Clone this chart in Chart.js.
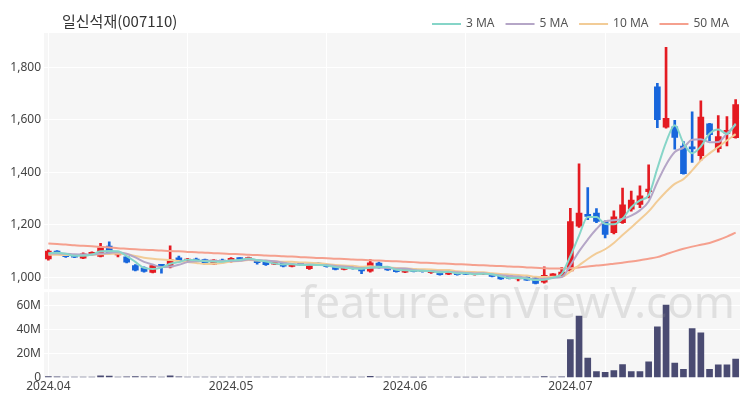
<!DOCTYPE html>
<html>
<head>
<meta charset="utf-8">
<script src="https://cdn.jsdelivr.net/npm/chart.js@4.4.1/dist/chart.umd.min.js"></script>
<style>
  html, body { margin: 0; padding: 0; background: #fff; }
</style>
</head>
<body>
<canvas id="stockChart" width="750" height="400"></canvas>
<script>
const chartTitle = '일신석재(007110)';
const monthLabels = ['2024.04', '2024.05', '2024.06', '2024.07'];
const daysApr = [1, 2, 3, 4, 5, 8, 9, 11, 12, 15, 16, 17, 18, 19, 22, 23, 24, 25, 26, 29, 30];
const daysMay = [2, 3, 7, 8, 9, 10, 13, 14, 16, 17, 20, 21, 22, 23, 24, 27, 28, 29, 30, 31];
const daysJun = [3, 4, 5, 7, 10, 11, 12, 13, 14, 17, 18, 19, 20, 21, 24, 25, 26, 27, 28];
const daysJul = [1, 2, 3, 4, 5, 8, 9, 10, 11, 12, 15, 16, 17, 18, 19, 22, 23, 24, 25, 26];

const opens = [1070, 1100, 1083, 1079, 1073, 1086, 1080, 1119, 1085, 1078,
  1045, 1036, 1019, 1048, 1040, 1074, 1062, 1070, 1068, 1050,
  1066, 1060, 1072, 1066, 1064, 1058, 1050, 1056, 1042, 1054,
  1033, 1052, 1048, 1044, 1030, 1040, 1038, 1024, 1054, 1038,
  1029, 1020, 1032, 1029, 1018, 1022, 1012, 1022, 1019, 1010,
  1012, 1014, 1007, 1009, 994, 1001, 998, 982, 1006, 1004,
  1025, 1195, 1238, 1245, 1212, 1170, 1208, 1260, 1278, 1326,
  1725, 1572, 1573, 1500, 1496, 1463, 1584, 1490, 1548, 1532];
const highs = [1105, 1102, 1085, 1081, 1093, 1097, 1130, 1135, 1095, 1080,
  1049, 1040, 1046, 1050, 1120, 1081, 1072, 1073, 1070, 1068,
  1070, 1075, 1075, 1077, 1066, 1060, 1058, 1057, 1052, 1056,
  1050, 1055, 1050, 1046, 1041, 1041, 1040, 1068, 1058, 1040,
  1030, 1032, 1033, 1030, 1028, 1024, 1028, 1023, 1020, 1018,
  1017, 1015, 1008, 1010, 1005, 1002, 1000, 1040, 1014, 1038,
  1263, 1432, 1342, 1262, 1215, 1253, 1340, 1328, 1348, 1428,
  1738, 1875, 1598, 1517, 1630, 1672, 1586, 1616, 1612, 1677];
const lows = [1065, 1088, 1076, 1075, 1071, 1084, 1078, 1090, 1078, 1055,
  1025, 1020, 1017, 1016, 1036, 1062, 1058, 1060, 1048, 1048,
  1055, 1058, 1064, 1064, 1050, 1045, 1048, 1040, 1040, 1045,
  1030, 1045, 1039, 1028, 1028, 1031, 1014, 1020, 1035, 1026,
  1020, 1018, 1021, 1020, 1015, 1008, 1010, 1008, 1010, 1008,
  1010, 1002, 992, 994, 986, 988, 975, 978, 1004, 1002,
  1022, 1190, 1220, 1208, 1150, 1165, 1205, 1252, 1265, 1302,
  1570, 1568, 1488, 1393, 1437, 1444, 1520, 1476, 1500, 1530];
const closes = [1100, 1090, 1079, 1077, 1090, 1095, 1112, 1093, 1092, 1058,
  1027, 1023, 1045, 1042, 1068, 1064, 1070, 1062, 1052, 1066,
  1058, 1072, 1068, 1075, 1056, 1048, 1056, 1043, 1050, 1047,
  1048, 1047, 1041, 1030, 1040, 1033, 1025, 1055, 1037, 1028,
  1022, 1030, 1022, 1022, 1026, 1010, 1026, 1010, 1011, 1016,
  1015, 1004, 994, 996, 1004, 989, 977, 1008, 1012, 1020,
  1212, 1245, 1232, 1213, 1163, 1230, 1276, 1294, 1310, 1336,
  1600, 1605, 1533, 1395, 1489, 1610, 1543, 1536, 1560, 1658];

const ma3 = [1092, 1094, 1090, 1082, 1082, 1087, 1099, 1100, 1099, 1081,
  1059, 1036, 1032, 1037, 1052, 1058, 1067, 1065, 1061, 1060,
  1059, 1065, 1066, 1072, 1066, 1060, 1053, 1049, 1050, 1047,
  1048, 1047, 1045, 1039, 1037, 1034, 1033, 1038, 1039, 1040,
  1029, 1027, 1025, 1025, 1023, 1019, 1021, 1015, 1016, 1012,
  1014, 1012, 1004, 998, 998, 996, 990, 991, 999, 1013,
  1081, 1159, 1230, 1230, 1203, 1202, 1223, 1267, 1293, 1313,
  1415, 1514, 1579, 1511, 1472, 1498, 1547, 1563, 1546, 1585];
const ma5 = [1090, 1091, 1090, 1088, 1087, 1086, 1091, 1093, 1096, 1090,
  1076, 1059, 1049, 1039, 1041, 1048, 1058, 1061, 1063, 1063,
  1062, 1062, 1063, 1068, 1066, 1064, 1061, 1056, 1051, 1049,
  1049, 1047, 1047, 1043, 1041, 1038, 1034, 1037, 1038, 1036,
  1033, 1034, 1028, 1025, 1024, 1022, 1021, 1019, 1017, 1015,
  1016, 1011, 1008, 1005, 1003, 997, 992, 995, 998, 1001,
  1046, 1099, 1144, 1184, 1213, 1217, 1223, 1235, 1255, 1289,
  1363, 1429, 1477, 1494, 1524, 1526, 1514, 1515, 1548, 1581];
const ma10 = [1086, 1086, 1085, 1085, 1085, 1086, 1088, 1089, 1090, 1089,
  1081, 1075, 1071, 1068, 1066, 1062, 1058, 1055, 1051, 1052,
  1055, 1060, 1062, 1066, 1064, 1063, 1061, 1059, 1059, 1057,
  1056, 1054, 1051, 1047, 1045, 1044, 1040, 1042, 1040, 1038,
  1036, 1034, 1032, 1031, 1030, 1028, 1028, 1023, 1021, 1020,
  1019, 1016, 1013, 1011, 1009, 1007, 1002, 1001, 1002, 1002,
  1022, 1046, 1070, 1091, 1107, 1131, 1161, 1190, 1220, 1251,
  1290, 1326, 1356, 1374, 1407, 1445, 1472, 1496, 1521, 1545];
const ma50 = [1129, 1127, 1125, 1122, 1120, 1118, 1116, 1114, 1111, 1109,
  1107, 1105, 1104, 1102, 1100, 1099, 1097, 1096, 1094, 1092,
  1091, 1089, 1088, 1086, 1085, 1083, 1082, 1080, 1079, 1077,
  1076, 1074, 1073, 1071, 1070, 1068, 1067, 1065, 1064, 1062,
  1061, 1059, 1058, 1056, 1055, 1053, 1052, 1050, 1049, 1047,
  1046, 1044, 1043, 1041, 1040, 1038, 1037, 1035, 1034, 1034,
  1035, 1038, 1041, 1045, 1048, 1052, 1056, 1060, 1065, 1071,
  1077, 1088, 1099, 1109, 1117, 1124, 1131, 1142, 1155, 1170];

// volume in millions of shares
const volumes = [0.9, 0.6, 0.4, 0.3, 0.5, 0.4, 1.4, 1.2, 0.5, 0.7,
  0.8, 0.6, 0.7, 0.5, 1.5, 0.6, 0.4, 0.4, 0.4, 0.4,
  0.4, 0.4, 0.3, 0.4, 0.4, 0.4, 0.3, 0.4, 0.3, 0.3,
  0.4, 0.3, 0.3, 0.4, 0.3, 0.2, 0.4, 1.1, 0.5, 0.4,
  0.3, 0.3, 0.2, 0.2, 0.3, 0.3, 0.3, 0.2, 0.2, 0.2,
  0.2, 0.3, 0.4, 0.3, 0.4, 0.3, 0.5, 0.9, 0.4, 0.7,
  31.9, 51.5, 16.3, 5.1, 4.5, 5.9, 11.0, 5.1, 5.1, 13.2,
  42.5, 60.8, 12.1, 7.0, 41.1, 37.4, 7.0, 10.7, 10.7, 15.5];

const priceTicks = [1000, 1200, 1400, 1600, 1800];
const volumeTicks = [0, 20, 40, 60];

const pad = (n) => String(n).padStart(2, '0');
const dates = [
  ...daysApr.map(d => monthLabels[0] + '.' + pad(d)),
  ...daysMay.map(d => monthLabels[1] + '.' + pad(d)),
  ...daysJun.map(d => monthLabels[2] + '.' + pad(d)),
  ...daysJul.map(d => monthLabels[3] + '.' + pad(d)),
];

const UP = '#e41b22';
const DOWN = '#1866dc';
const candleColors = closes.map((c, i) => (c >= opens[i] ? UP : DOWN));

const maLines = [
  { label: '3 MA', data: ma3, color: '#86d5c8' },
  { label: '5 MA', data: ma5, color: '#b5a6c7' },
  { label: '10 MA', data: ma10, color: '#f2cc97' },
  { label: '50 MA', data: ma50, color: '#f5a08e' },
];

const tickFont = { family: "'Noto Sans', 'Noto Sans CJK KR', sans-serif", size: 12 };

// panel backgrounds, title, legend and watermark
const decorations = {
  id: 'decorations',
  beforeDraw(chart) {
    const { ctx, chartArea, scales } = chart;
    ctx.save();
    ctx.fillStyle = '#f6f6f6';
    ctx.fillRect(chartArea.left, scales.y.top, chartArea.right - chartArea.left, scales.y.bottom - scales.y.top);
    ctx.fillRect(chartArea.left, scales.yv.top + 3, chartArea.right - chartArea.left, scales.yv.bottom - scales.yv.top - 3);
    ctx.restore();
  },
  afterDraw(chart) {
    const { ctx } = chart;
    ctx.save();
    // watermark
    ctx.font = "44px 'Noto Sans', sans-serif";
    ctx.fillStyle = 'rgba(150, 150, 150, 0.24)';
    ctx.textAlign = 'right';
    ctx.textBaseline = 'alphabetic';
    ctx.fillText('feature.enViewV.com', 735, 318);

    // title
    ctx.font = "15px 'Noto Sans CJK KR', sans-serif";
    ctx.fillStyle = '#333';
    ctx.textAlign = 'left';
    ctx.textBaseline = 'middle';
    ctx.fillText(chartTitle, 62, 21);

    // legend
    ctx.font = "12px 'Noto Sans', sans-serif";
    let x = 432;
    maLines.forEach(m => {
      ctx.strokeStyle = m.color;
      ctx.lineWidth = 2;
      ctx.beginPath();
      ctx.moveTo(x, 24);
      ctx.lineTo(x + 29, 24);
      ctx.stroke();
      ctx.fillStyle = '#555';
      ctx.fillText(m.label, x + 34, 24);
      x += 34 + ctx.measureText(m.label).width + 11;
    });
    ctx.restore();
  }
};

const monthTick = (index) => {
  const cur = dates[index].slice(0, 7);
  const prev = index > 0 ? dates[index - 1].slice(0, 7) : null;
  return cur !== prev ? cur : '';
};

new Chart(document.getElementById('stockChart'), {
  type: 'bar',
  data: {
    labels: dates,
    datasets: [
      ...maLines.map(m => ({
        type: 'line',
        label: m.label,
        data: m.data,
        borderColor: m.color,
        borderWidth: 2,
        pointRadius: 0,
        cubicInterpolationMode: 'monotone',
        yAxisID: 'y',
        order: 1,
      })),
      {
        label: 'wick',
        data: lows.map((l, i) => [l, highs[i]]),
        backgroundColor: candleColors,
        barThickness: 2,
        grouped: false,
        yAxisID: 'y',
        order: 2,
      },
      {
        label: 'body',
        data: opens.map((o, i) => [o, closes[i]]),
        backgroundColor: candleColors,
        barThickness: 6,
        minBarLength: 2,
        grouped: false,
        yAxisID: 'y',
        order: 2,
      },
      {
        label: 'volume',
        data: volumes,
        backgroundColor: '#4a4b72',
        barThickness: 6,
        grouped: false,
        yAxisID: 'yv',
        order: 3,
      },
    ],
  },
  options: {
    responsive: false,
    animation: false,
    devicePixelRatio: 1,
    layout: { padding: { top: 33, right: 10, bottom: 4, left: 0 } },
    plugins: {
      legend: { display: false },
      title: { display: false },
      tooltip: { enabled: false },
    },
    scales: {
      x: {
        offset: true,
        grid: {
          offset: false,
          drawTicks: false,
          color: (c) => (c.index % 16 === 0 ? '#ffffff' : 'rgba(0,0,0,0)'),
        },
        border: { display: false },
        ticks: {
          autoSkip: false,
          maxRotation: 0,
          padding: 2,
          color: '#444',
          font: tickFont,
          callback: (v, i) => monthTick(i),
        },
      },
      yv: {
        position: 'left',
        stack: 'panels',
        stackWeight: 88,
        min: 0,
        max: 74,
        grid: { color: '#ffffff', drawTicks: false },
        border: { display: false },
        ticks: {
          autoSkip: false,
          padding: 3,
          color: '#444',
          font: tickFont,
          callback: (v) => (v === 0 ? '0' : v + 'M'),
        },
        afterBuildTicks: (axis) => { axis.ticks = volumeTicks.map(v => ({ value: v })); },
        afterFit: (axis) => { axis.width = 44; },
      },
      y: {
        position: 'left',
        stack: 'panels',
        stackWeight: 255,
        min: 955,
        max: 1930,
        grid: { color: '#ffffff', drawTicks: false },
        border: { display: false },
        ticks: {
          autoSkip: false,
          padding: 3,
          color: '#444',
          font: tickFont,
          callback: (v) => v.toLocaleString('en-US'),
        },
        afterBuildTicks: (axis) => { axis.ticks = priceTicks.map(v => ({ value: v })); },
        afterFit: (axis) => { axis.width = 44; },
      },
    },
  },
  plugins: [decorations],
});
</script>
</body>
</html>
